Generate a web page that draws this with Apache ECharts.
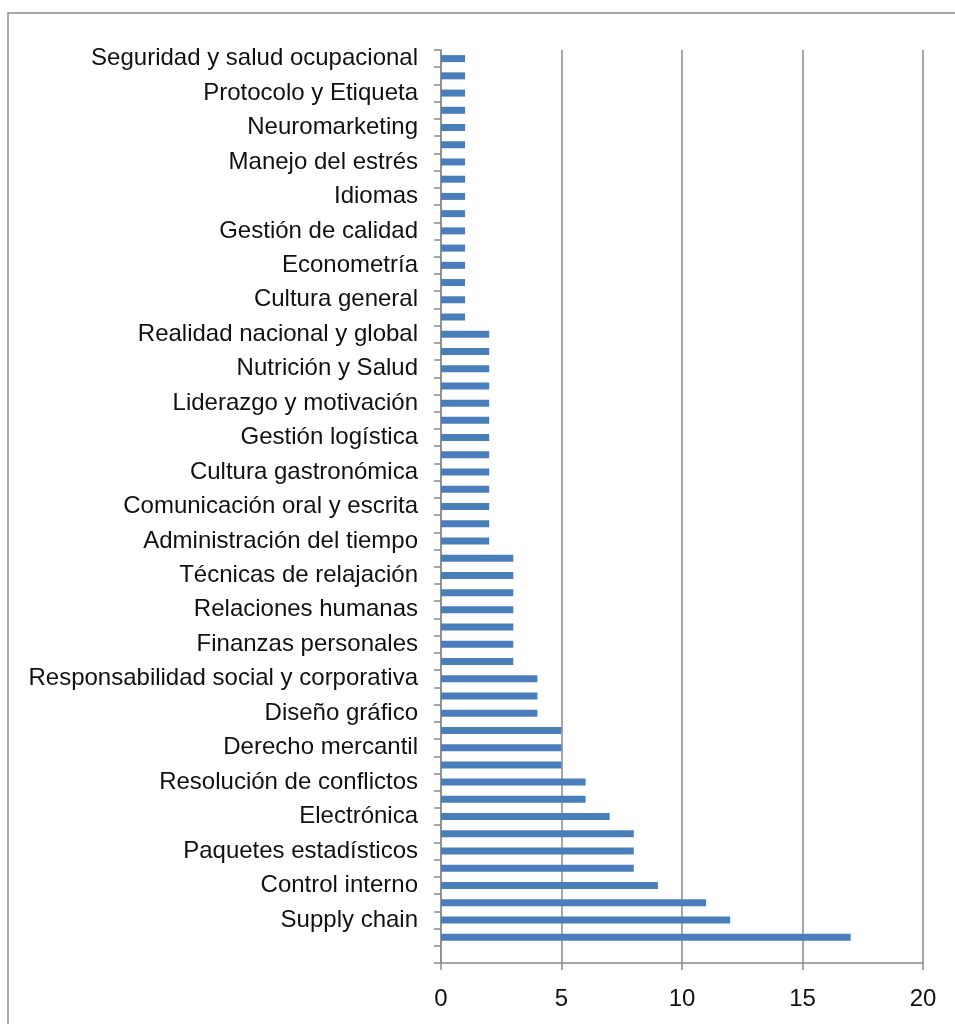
<!DOCTYPE html>
<html>
<head>
<meta charset="utf-8">
<script src="https://cdn.jsdelivr.net/npm/echarts@6/dist/echarts.min.js"></script>
<style>
html,body{margin:0;padding:0;background:#fff;}
#chart{width:955px;height:1024px;}
</style>
</head>
<body>
<div id="chart"></div>
<script>
// Categories listed top to bottom (every other category label is not shown in the original)
var categories = [
  'Seguridad y salud ocupacional', '',
  'Protocolo y Etiqueta', '',
  'Neuromarketing', '',
  'Manejo del estrés', '',
  'Idiomas', '',
  'Gestión de calidad', '',
  'Econometría', '',
  'Cultura general', '',
  'Realidad nacional y global', '',
  'Nutrición y Salud', '',
  'Liderazgo y motivación', '',
  'Gestión logística', '',
  'Cultura gastronómica', '',
  'Comunicación oral y escrita', '',
  'Administración del tiempo', '',
  'Técnicas de relajación', '',
  'Relaciones humanas', '',
  'Finanzas personales', '',
  'Responsabilidad social y corporativa', '',
  'Diseño gráfico', '',
  'Derecho mercantil', '',
  'Resolución de conflictos', '',
  'Electrónica', '',
  'Paquetes estadísticos', '',
  'Control interno', '',
  'Supply chain', '',
  ''
];
var values = [
  1, 1, 1, 1, 1, 1, 1, 1, 1, 1, 1, 1, 1, 1, 1, 1,
  2, 2, 2, 2, 2, 2, 2, 2, 2, 2, 2, 2, 2,
  3, 3, 3, 3, 3, 3, 3,
  4, 4, 4,
  5, 5, 5,
  6, 6,
  7,
  8, 8, 8,
  9,
  11,
  12,
  17,
  null
];
var xTicks = [0, 5, 10, 15, 20];

var chart = echarts.init(document.getElementById('chart'));
var gray = '#8a8a8a';
chart.setOption({
  animation: false,
  backgroundColor: '#ffffff',
  textStyle: { fontFamily: 'Liberation Sans' },
  graphic: [{
    type: 'rect',
    shape: { x: 8, y: 13, width: 1000, height: 1100 },
    style: { fill: 'none', stroke: '#8c8c8c', lineWidth: 1.5 },
    silent: true
  }],
  grid: { left: 441, right: 32, top: 50, bottom: 61, containLabel: false },
  xAxis: {
    type: 'value',
    min: xTicks[0],
    max: xTicks[xTicks.length - 1],
    interval: xTicks[1] - xTicks[0],
    axisLine: { show: true, lineStyle: { color: gray, width: 1.5 } },
    axisTick: { show: true, length: 7, lineStyle: { color: gray, width: 1.5 } },
    splitLine: { show: true, lineStyle: { color: gray, width: 1.5 } },
    axisLabel: { color: '#111', fontSize: 24, margin: 24, fontFamily: 'Liberation Sans' }
  },
  yAxis: {
    type: 'category',
    inverse: true,
    data: categories,
    axisLine: { show: true, lineStyle: { color: gray, width: 1.5 } },
    axisTick: { show: true, length: 7, interval: 0, alignWithLabel: false, lineStyle: { color: gray, width: 1.5 } },
    splitLine: { show: false },
    axisLabel: { interval: 0, color: '#111', fontSize: 24, margin: 23, padding: [4, 0, 0, 0], fontFamily: 'Liberation Sans' }
  },
  series: [{
    type: 'bar',
    data: values,
    barWidth: 7,
    itemStyle: { color: '#4a7ebb' }
  }]
});
</script>
</body>
</html>
